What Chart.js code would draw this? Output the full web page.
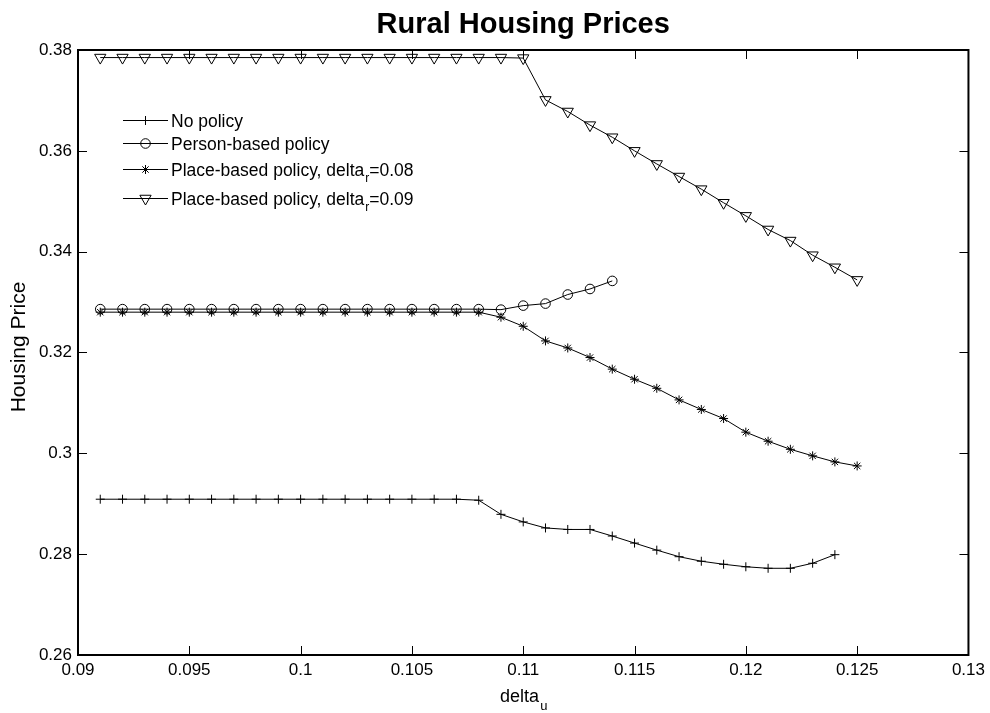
<!DOCTYPE html>
<html>
<head>
<meta charset="utf-8">
<script src="https://cdn.jsdelivr.net/npm/chart.js@4/dist/chart.umd.min.js"></script>
<style>
  html, body { margin: 0; padding: 0; background: #fff; }
  #wrap { width: 990px; height: 713px; }
</style>
</head>
<body>
<div id="wrap"><canvas id="priceChart" width="990" height="713"></canvas></div>
<script>
// delta_u values on the x axis
const deltaU = [0.091, 0.092, 0.093, 0.094, 0.095, 0.096, 0.097, 0.098, 0.099, 0.100,
                0.101, 0.102, 0.103, 0.104, 0.105, 0.106, 0.107, 0.108, 0.109, 0.110,
                0.111, 0.112, 0.113, 0.114, 0.115, 0.116, 0.117, 0.118, 0.119, 0.120,
                0.121, 0.122, 0.123, 0.124, 0.125];

// housing prices
const noPolicy = [0.2909, 0.2909, 0.2909, 0.2909, 0.2909, 0.2909, 0.2909, 0.2909, 0.2909, 0.2909,
                  0.2909, 0.2909, 0.2909, 0.2909, 0.2909, 0.2909, 0.2909, 0.2907, 0.2879, 0.2864,
                  0.2852, 0.2849, 0.2849, 0.2836, 0.2822, 0.2808, 0.2795, 0.2786, 0.2780, 0.2775,
                  0.2772, 0.2772, 0.2782, 0.2799];
const personBased = [0.3286, 0.3286, 0.3286, 0.3286, 0.3286, 0.3286, 0.3286, 0.3286, 0.3286, 0.3286,
                     0.3286, 0.3286, 0.3286, 0.3286, 0.3286, 0.3286, 0.3286, 0.3286, 0.3285, 0.3293,
                     0.3297, 0.3315, 0.3326, 0.3342];
const placeBased08 = [0.3280, 0.3280, 0.3280, 0.3280, 0.3280, 0.3280, 0.3280, 0.3280, 0.3280, 0.3280,
                      0.3280, 0.3280, 0.3280, 0.3280, 0.3280, 0.3280, 0.3280, 0.3280, 0.3270, 0.3252,
                      0.3223, 0.3209, 0.3190, 0.3167, 0.3147, 0.3129, 0.3106, 0.3087, 0.3069, 0.3042,
                      0.3024, 0.3008, 0.2995, 0.2983, 0.2975];
const placeBased09 = [0.3785, 0.3785, 0.3785, 0.3785, 0.3785, 0.3785, 0.3785, 0.3785, 0.3785, 0.3785,
                      0.3785, 0.3785, 0.3785, 0.3785, 0.3785, 0.3785, 0.3785, 0.3785, 0.3785, 0.3784,
                      0.3701, 0.3678, 0.3651, 0.3627, 0.3600, 0.3574, 0.3549, 0.3524, 0.3497, 0.3471,
                      0.3444, 0.3422, 0.3393, 0.3369, 0.3344];

const xTickMin = 0.09, xTickMax = 0.13, xTickStep = 0.005;
const yTickMin = 0.26, yTickMax = 0.38, yTickStep = 0.02;

const FONT = '"Liberation Sans", Arial, Helvetica, sans-serif';

function toPoints(values) {
    return values.map((v, i) => ({ x: deltaU[i], y: v }));
}

function fmt(v) {
    return String(parseFloat(v.toFixed(4)));
}

const seriesStyle = [
    { label: "No policy", data: noPolicy, style: "cross", radius: 4.5, rot: 0 },
    { label: "Person-based policy", data: personBased, style: "circle", radius: 4.8, rot: 0 },
    { label: "Place-based policy, delta", sub: "r", tail: "=0.08", data: placeBased08, style: "star", radius: 4.5, rot: 0 },
    { label: "Place-based policy, delta", sub: "r", tail: "=0.09", data: placeBased09, style: "triangle", radius: 6.5, rot: 180 }
];

const datasets = seriesStyle.map(s => ({
    label: s.label,
    data: toPoints(s.data),
    borderColor: "#000",
    borderWidth: 1,
    pointStyle: s.style,
    pointRadius: s.radius,
    pointRotation: s.rot,
    pointBorderColor: "#000",
    pointBackgroundColor: "rgba(0,0,0,0)",
    pointBorderWidth: 1,
    tension: 0,
    fill: false
}));

// box, inner ticks, title, axis titles and legend
const decorations = {
    id: "decorations",
    afterDraw(chart) {
        const ctx = chart.ctx;
        const area = chart.chartArea;
        const xs = chart.scales.x;
        const ys = chart.scales.y;
        ctx.save();

        ctx.strokeStyle = "#000";
        ctx.lineWidth = 1;
        ctx.beginPath();
        for (let v = xTickMin; v <= xTickMax + 1e-9; v += xTickStep) {
            const px = Math.round(xs.getPixelForValue(v)) + 0.5;
            ctx.moveTo(px, area.bottom); ctx.lineTo(px, area.bottom - 9);
            ctx.moveTo(px, area.top); ctx.lineTo(px, area.top + 9);
        }
        for (let v = yTickMin; v <= yTickMax + 1e-9; v += yTickStep) {
            const py = Math.round(ys.getPixelForValue(v)) + 0.5;
            ctx.moveTo(area.left, py); ctx.lineTo(area.left + 9, py);
            ctx.moveTo(area.right, py); ctx.lineTo(area.right - 9, py);
        }
        ctx.stroke();

        ctx.lineWidth = 2;
        ctx.strokeRect(area.left, area.top, area.right - area.left, area.bottom - area.top);

        // title
        ctx.fillStyle = "#000";
        ctx.textAlign = "center";
        ctx.textBaseline = "alphabetic";
        ctx.font = "bold 29px " + FONT;
        ctx.fillText("Rural Housing Prices", (area.left + area.right) / 2, 33);

        // x axis title with subscript
        ctx.font = "18px " + FONT;
        const mainW = ctx.measureText("delta").width;
        ctx.font = "13px " + FONT;
        const subW = ctx.measureText("u").width;
        const startX = (area.left + area.right) / 2 - (mainW + subW) / 2;
        ctx.textAlign = "left";
        ctx.font = "18px " + FONT;
        ctx.fillText("delta", startX, 702);
        ctx.font = "13px " + FONT;
        ctx.fillText("u", startX + mainW + 1, 710);

        // y axis title
        ctx.save();
        ctx.translate(25, 347);
        ctx.rotate(-Math.PI / 2);
        ctx.textAlign = "center";
        ctx.font = "21px " + FONT;
        ctx.fillText("Housing Price", 0, 0);
        ctx.restore();

        // legend
        const rowsY = [120, 143, 169, 198];
        seriesStyle.forEach((s, i) => {
            const y = rowsY[i] + 0.5;
            ctx.lineWidth = 1;
            ctx.strokeStyle = "#000";
            ctx.beginPath();
            ctx.moveTo(123, y); ctx.lineTo(168, y);
            ctx.stroke();
            drawMarker(ctx, s.style, 145.5, y, s.radius);

            ctx.textAlign = "left";
            ctx.fillStyle = "#000";
            ctx.font = "17.5px " + FONT;
            let tx = 171;
            ctx.fillText(s.label, tx, y + 6);
            if (s.sub) {
                tx += ctx.measureText(s.label).width;
                ctx.font = "12px " + FONT;
                ctx.fillText(s.sub, tx + 1, y + 12);
                tx += ctx.measureText(s.sub).width + 1;
                ctx.font = "17.5px " + FONT;
                ctx.fillText(s.tail, tx, y + 6);
            }
        });
        ctx.restore();
    }
};

function drawMarker(ctx, style, x, y, r) {
    ctx.beginPath();
    if (style === "cross") {
        ctx.moveTo(x - r, y); ctx.lineTo(x + r, y);
        ctx.moveTo(x, y - r); ctx.lineTo(x, y + r);
    } else if (style === "circle") {
        ctx.arc(x, y, r, 0, Math.PI * 2);
    } else if (style === "star") {
        ctx.moveTo(x - r, y); ctx.lineTo(x + r, y);
        ctx.moveTo(x, y - r); ctx.lineTo(x, y + r);
        const d = r * Math.SQRT1_2;
        ctx.moveTo(x - d, y - d); ctx.lineTo(x + d, y + d);
        ctx.moveTo(x - d, y + d); ctx.lineTo(x + d, y - d);
    } else if (style === "triangle") {
        const h = r * Math.sin(Math.PI / 3);
        ctx.moveTo(x - h, y - r / 2);
        ctx.lineTo(x + h, y - r / 2);
        ctx.lineTo(x, y + r);
        ctx.closePath();
    }
    ctx.stroke();
}

const chart = new Chart(document.getElementById("priceChart"), {
    type: "line",
    data: { datasets },
    options: {
        responsive: false,
        animation: false,
        devicePixelRatio: 1,
        layout: { padding: { left: 0, right: 20, top: 50, bottom: 0 } },
        plugins: {
            legend: { display: false },
            title: { display: false },
            tooltip: { enabled: false }
        },
        scales: {
            x: {
                type: "linear",
                min: xTickMin,
                max: xTickMax,
                grid: { display: false, drawTicks: false },
                border: { display: false },
                afterFit: s => { s.height = 58; },
                ticks: {
                    stepSize: xTickStep,
                    padding: 5,
                    color: "#000",
                    font: { family: FONT, size: 17 },
                    maxRotation: 0,
                    autoSkip: false,
                    callback: v => fmt(v)
                }
            },
            y: {
                type: "linear",
                min: yTickMin,
                max: yTickMax,
                grid: { display: false, drawTicks: false },
                border: { display: false },
                afterFit: s => { s.width = 78; },
                ticks: {
                    stepSize: yTickStep,
                    padding: 6,
                    color: "#000",
                    font: { family: FONT, size: 17 },
                    callback: v => fmt(v)
                }
            }
        }
    },
    plugins: [decorations]
});
</script>
</body>
</html>
